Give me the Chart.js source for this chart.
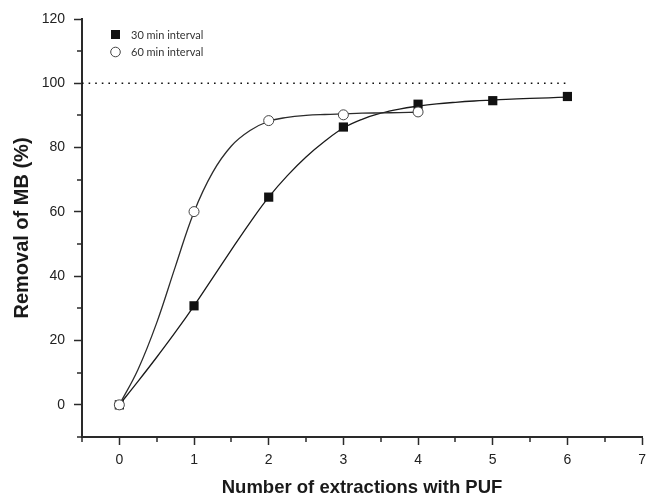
<!DOCTYPE html>
<html>
<head>
<meta charset="utf-8">
<script src="https://cdn.jsdelivr.net/npm/chart.js@4.4.1/dist/chart.umd.min.js"></script>
<style>
  html, body { margin: 0; padding: 0; background: #fff; }
  #wrap { width: 653px; height: 498px; }
</style>
</head>
<body>
<div id="wrap"><canvas id="c" width="653" height="498"></canvas></div>
<script>
// measured points
const extractions30 = [0, 1, 2, 3, 4, 5, 6];
const removal30 = [0, 30.8, 64.6, 86.4, 93.5, 94.6, 95.9];
const extractions60 = [0, 1, 2, 3, 4];
const removal60 = [0, 60.1, 88.4, 90.2, 91.1];

// fitted curves, every 0.25
const fitX30 = [0, 0.25, 0.5, 0.75, 1, 1.25, 1.5, 1.75, 2, 2.25, 2.5, 2.75, 3,
                3.25, 3.5, 3.75, 4, 4.25, 4.5, 4.75, 5, 5.25, 5.5, 5.75, 6];
const fitY30 = [0, 7.3, 14.8, 22.6, 30.8, 39.5, 48.2, 56.7, 64.6, 71.3, 77.1, 82, 86.1,
                88.8, 90.7, 92, 92.9, 93.6, 94.1, 94.5, 94.8, 95.1, 95.3, 95.5, 95.7];
const fitX60 = [0, 0.25, 0.5, 0.75, 1, 1.25, 1.5, 1.75, 2, 2.25, 2.5, 2.75, 3, 3.25, 3.5, 3.75, 4];
const fitY60 = [0, 11, 25.5, 43, 60, 72.3, 80.5, 85.3, 88.2, 89.4, 90, 90.3, 90.5, 90.7, 90.8, 90.9, 91];

// 100 % reference line
const refX = [-0.5, 6];
const refY = [100, 100];

const legendLabels = ['30 min interval', '60 min interval'];

function pts(xs, ys) {
    var out = [];
    for (var i = 0; i < xs.length; i++) out.push({x: xs[i], y: ys[i]});
    return out;
}

const axisColor = '#2a2a2a';

// minor ticks + legend drawn on top
const extras = {
    id: 'extras',
    afterDraw(chart) {
        const ctx = chart.ctx;
        const xs = chart.scales.x, ys = chart.scales.y;
        const area = chart.chartArea;
        ctx.save();
        ctx.strokeStyle = axisColor;
        ctx.lineWidth = 1.5;
        ctx.beginPath();
        for (var v = -0.5; v <= 6.5; v += 1) {
            var px = Math.round(xs.getPixelForValue(v));
            ctx.moveTo(px, area.bottom);
            ctx.lineTo(px, area.bottom + 5);
        }
        for (var w = -10; w <= 110; w += 20) {
            var py = Math.round(ys.getPixelForValue(w));
            ctx.moveTo(area.left, py);
            ctx.lineTo(area.left - 5, py);
        }
        ctx.stroke();

        // legend
        ctx.fillStyle = '#111';
        ctx.fillRect(111, 30, 9, 9);
        ctx.beginPath();
        ctx.arc(115.5, 52, 4.8, 0, Math.PI * 2);
        ctx.fillStyle = '#fff';
        ctx.fill();
        ctx.strokeStyle = '#444';
        ctx.lineWidth = 1;
        ctx.stroke();
        ctx.fillStyle = '#333';
        ctx.font = '11px Lato';
        ctx.textBaseline = 'middle';
        ctx.fillText(legendLabels[0], 131, 35);
        ctx.fillText(legendLabels[1], 131, 52);
        ctx.restore();
    }
};

new Chart(document.getElementById('c'), {
    type: 'scatter',
    data: {
        datasets: [
            {
                label: legendLabels[1],
                data: pts(extractions60, removal60),
                pointStyle: 'circle',
                pointRadius: 5,
                pointBackgroundColor: '#fff',
                pointBorderColor: '#444',
                pointBorderWidth: 1,
                showLine: false,
                order: 0
            },
            {
                label: legendLabels[0],
                data: pts(extractions30, removal30),
                pointStyle: 'rect',
                pointRadius: 6.5,
                pointBackgroundColor: '#111',
                pointBorderColor: '#111',
                pointBorderWidth: 0,
                showLine: false,
                order: 1
            },
            {
                label: 'fit 60',
                data: pts(fitX60, fitY60),
                showLine: true,
                pointRadius: 0,
                borderColor: '#2b2b2b',
                borderWidth: 1.3,
                tension: 0.4,
                order: 2
            },
            {
                label: 'fit 30',
                data: pts(fitX30, fitY30),
                showLine: true,
                pointRadius: 0,
                borderColor: '#1a1a1a',
                borderWidth: 1.3,
                tension: 0.4,
                order: 3
            },
            {
                label: '100%',
                data: pts(refX, refY),
                showLine: true,
                pointRadius: 0,
                borderColor: '#111',
                borderWidth: 1.6,
                borderDash: [1.6, 5],
                order: 4
            }
        ]
    },
    options: {
        responsive: false,
        animation: false,
        layout: { padding: { top: 19, right: 8, bottom: 0, left: 0 } },
        plugins: {
            legend: { display: false },
            tooltip: { enabled: false }
        },
        scales: {
            x: {
                type: 'linear',
                min: -0.5,
                max: 7,
                afterFit(scale) { scale.height = 61; },
                border: { color: axisColor, width: 2 },
                grid: { drawOnChartArea: false, drawTicks: true, tickLength: 8, tickColor: axisColor, tickWidth: 1.5 },
                ticks: {
                    stepSize: 1,
                    includeBounds: false,
                    padding: 7,
                    color: '#222',
                    font: { family: 'Liberation Sans, Arial', size: 14 }
                },
                title: {
                    display: true,
                    text: 'Number of extractions with PUF',
                    color: '#1a1a1a',
                    font: { family: 'Liberation Sans, Arial', size: 18.5, weight: 'bold' },
                    padding: { top: 0, bottom: -1 }
                }
            },
            y: {
                type: 'linear',
                min: -10,
                max: 120,
                afterFit(scale) { scale.width = 82; },
                border: { color: axisColor, width: 2 },
                grid: { drawOnChartArea: false, drawTicks: true, tickLength: 8, tickColor: axisColor, tickWidth: 1.5 },
                ticks: {
                    stepSize: 20,
                    includeBounds: false,
                    padding: 9,
                    color: '#222',
                    font: { family: 'Liberation Sans, Arial', size: 14 }
                },
                title: {
                    display: true,
                    text: 'Removal of MB (%)',
                    color: '#1a1a1a',
                    font: { family: 'Liberation Sans, Arial', size: 20, weight: 'bold' },
                    padding: { top: 10, bottom: 0 }
                }
            }
        }
    },
    plugins: [extras]
});
</script>
</body>
</html>
